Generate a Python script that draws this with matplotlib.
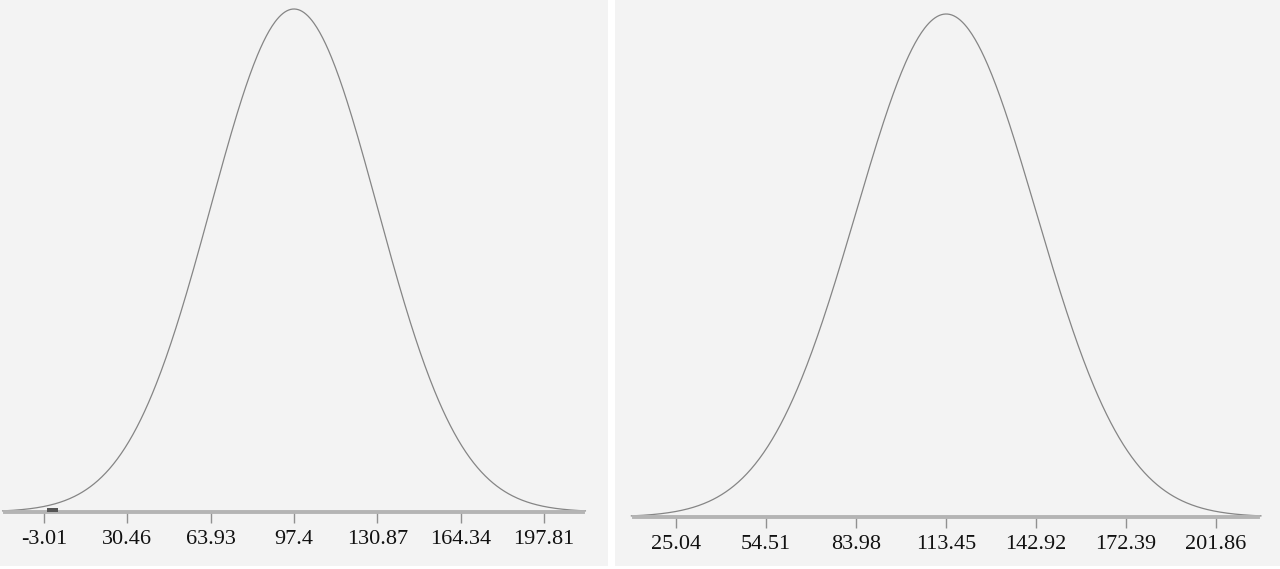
import numpy as np
import matplotlib.pyplot as plt
from matplotlib.patches import Rectangle

# distribution parameters (ticks = mean + k*sd)
left_mean, left_sd = 97.4, 33.47
right_mean, right_sd = 113.45, 29.47
left_ticks = [-3.01, 30.46, 63.93, 97.4, 130.87, 164.34, 197.81]
right_ticks = [25.04, 54.51, 83.98, 113.45, 142.92, 172.39, 201.86]
left_marker = 0.0        # small dark marker on the left axis

panel_bg = '#f3f3f3'
curve_col = '#858585'
axis_col = '#b4b4b4'


def normal_pdf(x, mu, sd):
    return np.exp(-0.5 * ((x - mu) / sd) ** 2) / (sd * np.sqrt(2 * np.pi))


def draw_panel(ax, mu, sd, ticks, xl, xr, y_axis, y_peak, h):
    x = np.linspace(mu - 3.5 * sd, mu + 3.5 * sd, 600)
    y = normal_pdf(x, mu, sd)
    peak = normal_pdf(mu, mu, sd)
    ax.plot(x, y, color=curve_col, lw=0.9, solid_capstyle='round')
    ax.set_xlim(mu + xl * sd, mu + xr * sd)
    scale = peak / (y_axis - y_peak)          # data units per pixel
    ax.set_ylim(-(h - y_axis) * scale, y_axis * scale)
    ax.set_facecolor(panel_bg)
    for s in ['top', 'left', 'right']:
        ax.spines[s].set_visible(False)
    ax.spines['bottom'].set_position(('data', 0))
    ax.spines['bottom'].set_bounds(mu - 3.47 * sd, mu + 3.47 * sd)
    ax.spines['bottom'].set_color(axis_col)
    ax.spines['bottom'].set_linewidth(2.8)
    ax.set_yticks([])
    ax.set_xticks(ticks)
    ax.set_xticklabels([f'{t:g}' for t in ticks])
    ax.tick_params(axis='x', length=8, width=1, color='#909090', pad=5,
                   labelsize=16, labelcolor='#111111')
    for lab in ax.get_xticklabels():
        lab.set_family('Liberation Serif')
    return scale


W, H = 1280, 569
fig = plt.figure(figsize=(W / 100, H / 100), dpi=100)
fig.patch.set_facecolor('white')

ax1 = fig.add_axes([0 / W, 3 / H, 608 / W, 566 / H])
px = draw_panel(ax1, left_mean, left_sd, left_ticks, -3.53, 3.77, 512, 9, 566)
ax1.add_patch(Rectangle((left_marker - 2.0, 0), 4.4, 4 * px,
                        facecolor='#555555', edgecolor='none', zorder=5))

ax2 = fig.add_axes([615 / W, 3 / H, 665 / W, 566 / H])
draw_panel(ax2, right_mean, right_sd, right_ticks, -3.68, 3.71, 517, 14, 566)

plt.savefig('out.png', dpi=100, facecolor='white')
